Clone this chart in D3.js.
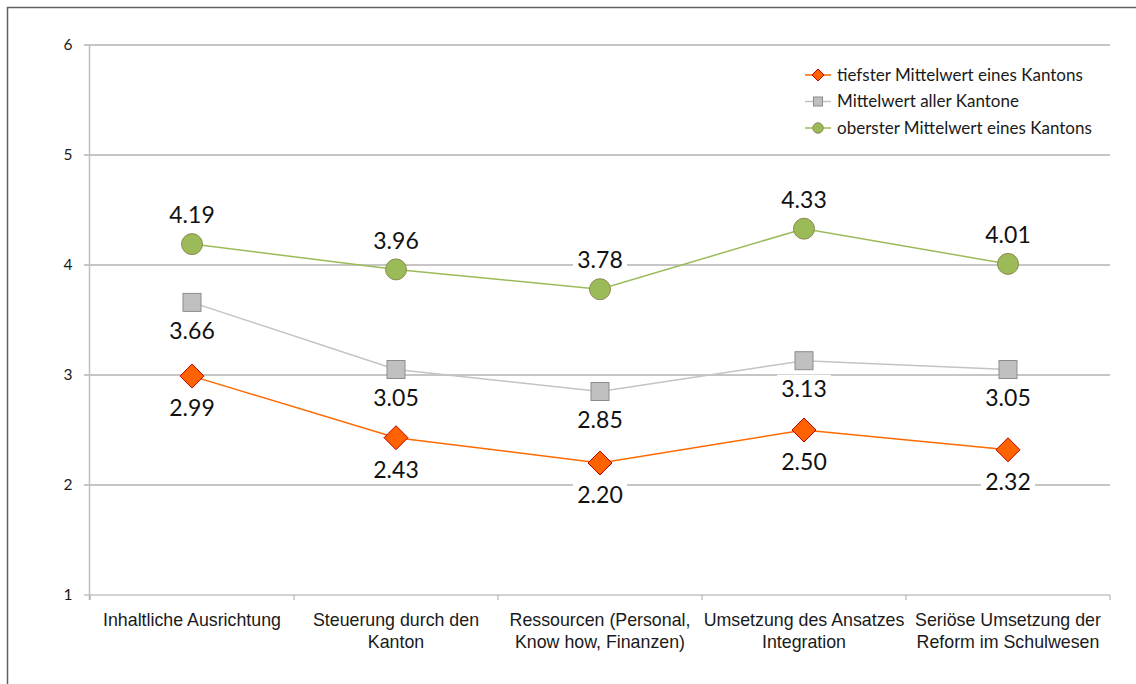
<!DOCTYPE html>
<meta charset="utf-8">
<style>
  body { margin: 0; background: #fff; }
  .cat text { font-family: 'Liberation Sans', Arial, sans-serif; font-size: 17.8px; fill: #1a1a1a; }
  .ytick text { font-family: Lato, 'Open Sans', sans-serif; font-size: 15.5px; fill: #1a1a1a; }
  .dlabel { font-family: Lato, 'Open Sans', sans-serif; font-size: 23px; fill: #111; }
  .legend text { font-family: Lato, 'Open Sans', sans-serif; font-size: 17px; fill: #1a1a1a; }
</style>
<body>
<div id="chart"></div>
<script src="https://d3js.org/d3.v7.min.js"></script>
<script>
// categories (two lines each)
var categories = [
  ["Inhaltliche Ausrichtung"],
  ["Steuerung durch den", "Kanton"],
  ["Ressourcen (Personal,", "Know how, Finanzen)"],
  ["Umsetzung des Ansatzes", "Integration"],
  ["Seriöse Umsetzung der", "Reform im Schulwesen"]
];
var lowest  = [2.99, 2.43, 2.20, 2.50, 2.32];
var average = [3.66, 3.05, 2.85, 3.13, 3.05];
var highest = [4.19, 3.96, 3.78, 4.33, 4.01];
var yTicks = [1, 2, 3, 4, 5, 6];
var seriesNames = ["tiefster Mittelwert eines Kantons", "Mittelwert aller Kantone", "oberster Mittelwert eines Kantons"];

var W = 1136, H = 684;
var margin = {top: 45, right: 26, bottom: 89, left: 90},
    width = W - margin.left - margin.right,
    height = H - margin.top - margin.bottom;

var svg = d3.select("#chart").append("svg")
    .attr("width", W).attr("height", H);

// outer frame
svg.append("path")
    .attr("d", "M7.5," + H + "V7.5H" + W)
    .style("fill", "none").style("stroke", "#606060").style("stroke-width", 1.5);

var g = svg.append("g").attr("transform", "translate(" + margin.left + "," + margin.top + ")");

var x = d3.scaleBand().domain(d3.range(categories.length)).range([0, width]);
var y = d3.scaleLinear().domain([1, 6]).range([height, 0]);
var cx = function(i) { return x(i) + x.bandwidth() / 2; };

// gridlines + y ticks
var yg = g.append("g").attr("class", "ytick");
yTicks.forEach(function(t) {
  yg.append("line")
    .attr("x1", -6).attr("x2", width)
    .attr("y1", y(t)).attr("y2", y(t))
    .style("stroke", t === 1 ? "#a6a6a6" : "#8c8c8c").style("stroke-width", 1);
  yg.append("text")
    .attr("x", -22).attr("y", y(t)).attr("dy", "0.35em")
    .attr("text-anchor", "middle").text(t);
});

// y axis line
g.append("line").attr("x1", -0.5).attr("x2", -0.5).attr("y1", 0).attr("y2", height + 5)
  .style("stroke", "#bfbfbf").style("stroke-width", 1.5);

// x ticks at band boundaries
var xg = g.append("g").attr("class", "cat");
d3.range(categories.length + 1).forEach(function(i) {
  var xx = i < categories.length ? x(i) : width;
  xg.append("line").attr("x1", xx).attr("x2", xx).attr("y1", height).attr("y2", height + 5)
    .style("stroke", "#a6a6a6");
});
categories.forEach(function(lines, i) {
  var t = xg.append("text").attr("x", cx(i)).attr("y", height + 31).attr("text-anchor", "middle");
  lines.forEach(function(l, k) {
    t.append("tspan").attr("x", cx(i)).attr("dy", k === 0 ? 0 : 22).text(l);
  });
});

var line = d3.line().x(function(d, i) { return cx(i); }).y(function(d) { return y(d); });

var series = [
  {name: seriesNames[0], data: lowest,  color: "#ff6a00", fill: "#ff6200", stroke: "#c00000", shape: "diamond", dy: 32},
  {name: seriesNames[1], data: average, color: "#c3c3c3", fill: "#c0c0c0", stroke: "#8c8c8c", shape: "square",  dy: 28},
  {name: seriesNames[2], data: highest, color: "#9bbb59", fill: "#9bbb59", stroke: "#8b8a4e", shape: "circle",  dy: -29}
];

function marker(sel, s, scale) {
  scale = scale || 1;
  if (s.shape === "circle") {
    sel.append("circle").attr("r", 10.5 * scale);
  } else if (s.shape === "square") {
    var a = 9 * scale;
    sel.append("rect").attr("x", -a).attr("y", -a).attr("width", 2 * a).attr("height", 2 * a);
  } else {
    var d = 12 * scale;
    sel.append("path").attr("d", "M0," + (-d) + "L" + d + ",0L0," + d + "L" + (-d) + ",0Z");
  }
  sel.selectAll("*").style("fill", s.fill).style("stroke", s.stroke).style("stroke-width", 1);
}

// data labels (with white background) drawn below lines
var labelLayer = g.append("g");
var lineLayer = g.append("g");

series.forEach(function(s) {
  lineLayer.append("path").datum(s.data).attr("d", line)
    .style("fill", "none").style("stroke", s.color).style("stroke-width", 1.5);
});
series.forEach(function(s) {
  s.data.forEach(function(v, i) {
    var m = lineLayer.append("g").attr("transform", "translate(" + cx(i) + "," + y(v) + ")");
    marker(m, s);
    var lg = labelLayer.append("g").attr("transform", "translate(" + cx(i) + "," + (y(v) + s.dy) + ")");
    lg.append("rect").attr("x", -27).attr("y", -14).attr("width", 54).attr("height", 28).style("fill", "#fff");
    lg.append("text").attr("class", "dlabel").attr("text-anchor", "middle").attr("dy", "0.36em")
      .text(v.toFixed(2));
  });
});

// legend
var leg = svg.append("g").attr("class", "legend").attr("transform", "translate(805,75)");
series.forEach(function(s, i) {
  var r = leg.append("g").attr("transform", "translate(0," + (i * 26.5) + ")");
  r.append("line").attr("x1", 0).attr("x2", 26).style("stroke", s.color).style("stroke-width", 1.5);
  var m = r.append("g").attr("transform", "translate(13,0)");
  marker(m, s, 0.5);
  r.append("text").attr("x", 32).attr("dy", "0.35em").text(s.name);
});
</script>
</body>
